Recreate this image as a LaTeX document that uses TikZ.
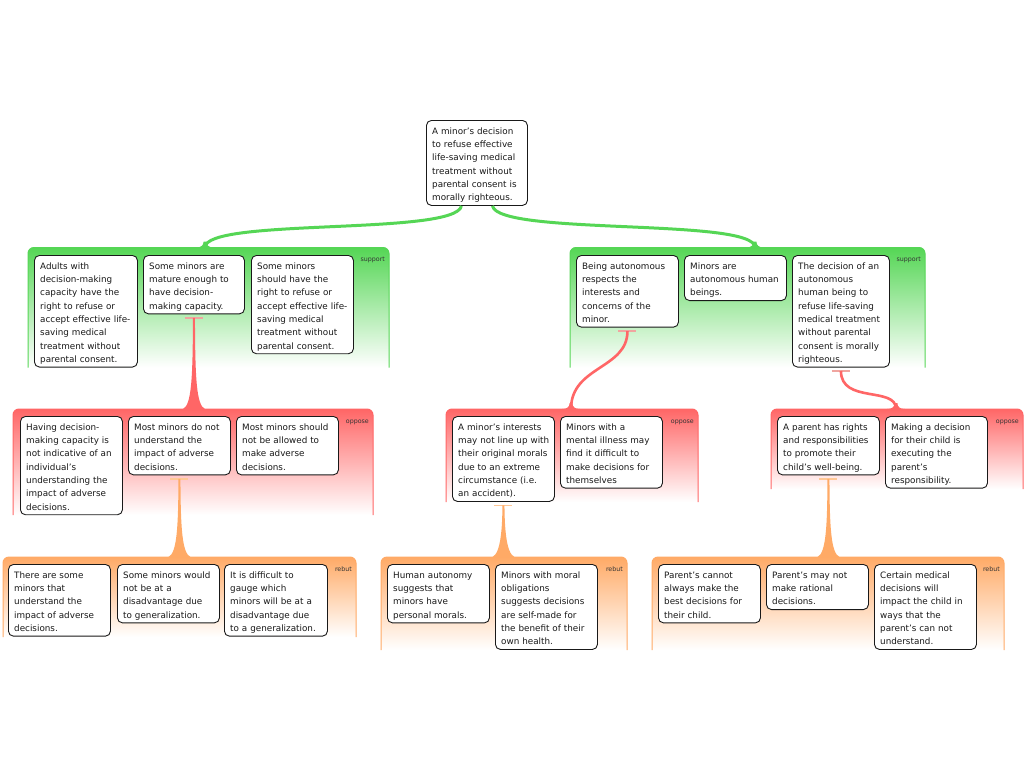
\documentclass[tikz,border=0pt]{standalone}
\usepackage{fontspec}
\setmainfont{DejaVu Sans}
\usetikzlibrary{calc}
\definecolor{supc}{RGB}{85,214,85}
\definecolor{oppc}{RGB}{255,102,102}
\definecolor{rebc}{RGB}{255,170,102}
\definecolor{oppbar}{RGB}{240,165,160}
\definecolor{rebbar}{RGB}{255,200,150}
\tikzset{
 argbox/.style={draw=black!90, line width=0.9pt, rounded corners=5pt, fill=white, inner sep=0pt, anchor=north west},
 argtxt/.style={inner sep=0pt, anchor=north west, align=left, text width=100pt, font=\fontsize{8.8}{13.3}\selectfont, text=black!90},
 grplbl/.style={inner sep=0pt, anchor=base east, font=\fontsize{6.3}{7}\selectfont, text=black!80},
}
% name, x1, x2, ytop, nlines, text
\newcommand\abox[6]{%
 \node[argbox, minimum width={#3-#2}, minimum height={13.3*#5+5.2}] (#1) at (#2,#4) {};
 \node[argtxt] (#1t) at ([xshift=6pt,yshift=-4.7pt]#1.north west) {\strut#6};
}
% name, x1, x2, ytop, ybot, colour, label
\newcommand\agroup[7]{%
 \shade[top color=#6, bottom color=white, rounded corners=6pt] (#2,#5) -- (#2,#4) -- (#3,#4) -- (#3,#5) -- cycle;
 \draw[#6, line width=1pt, rounded corners=6pt] (#2,#5) -- (#2,#4) -- (#3,#4) -- (#3,#5);
 \coordinate (#1top) at (#2,#4);
 \node[grplbl] (#1) at ({#3-4},{#4+14}) {#7};
}
% colour, narrow end, wide end (straight)
\newcommand\taper[3]{%
 \fill[#1] let \p1=(#2), \p2=(#3) in
  (\x1-1pt,\y1) .. controls (\x2-1.2pt,\y2+30pt) and (\x2-2.5pt,\y2+4pt) .. (\x2-11pt,\y2)
  -- (\x2+11pt,\y2) .. controls (\x2+2.5pt,\y2+4pt) and (\x2+1.2pt,\y2+30pt) .. (\x1+1pt,\y1) -- cycle;
}
% colour, width, from, rel c1, rel c2, to
\newcommand\ccurve[6]{%
 \draw[#1, line width=#2] (#3) .. controls +(#4) and +(#5) .. (#6);
 \fill[#1] let \p1=(#6) in (\x1-9pt,\y1) .. controls (\x1-4pt,\y1) and (\x1-1.4pt,\y1+2pt) .. (\x1-1.4pt,\y1+6pt)
  -- (\x1+1.4pt,\y1+6pt) .. controls (\x1+1.4pt,\y1+2pt) and (\x1+4pt,\y1) .. (\x1+9pt,\y1) -- cycle;
}
% colour, node, coordinate name
\newcommand\abar[3]{%
 \draw[#1, line width=1.8pt] ($(#2.south)+(-9,3.5)$) -- ($(#2.south)+(9,3.5)$);
 \coordinate (#3) at ($(#2.south)+(0,3.5)$);
}
\begin{document}
\begin{tikzpicture}[x=1pt,y=-1pt]
\useasboundingbox (0,0) rectangle (1024,768);
\fill[white] (0,0) rectangle (1024,768);

\agroup{sg1}{28}{389}{247.5}{367.5}{supc}{support}
\agroup{sg2}{570}{925}{247.5}{367.5}{supc}{support}
\agroup{og1}{13}{373}{409}{515}{oppc}{oppose}
\agroup{og2}{446}{698}{409}{502}{oppc}{oppose}
\agroup{og3}{771}{1023}{409}{489}{oppc}{oppose}
\agroup{rg1}{3}{356}{557}{637}{rebc}{rebut}
\agroup{rg2}{381}{627}{557}{650}{rebc}{rebut}
\agroup{rg3}{652}{1004}{557}{650}{rebc}{rebut}

\abox{root}{426}{527}{120}{6}{A minor's decision\\to refuse effective\\life-saving medical\\treatment without\\parental consent is\\morally righteous.}

\abox{s1}{34}{137}{255}{8}{Adults with\\decision-making\\capacity have the\\right to refuse or\\accept effective life-\\saving medical\\treatment without\\parental consent.}
\abox{s2}{143}{244}{255}{4}{Some minors are\\mature enough to\\have decision-\\making capacity.}
\abox{s3}{251}{353}{255}{7}{Some minors\\should have the\\right to refuse or\\accept effective life-\\saving medical\\treatment without\\parental consent.}
\abox{s4}{576}{678}{255}{5}{Being autonomous\\respects the\\interests and\\concerns of the\\minor.}
\abox{s5}{684}{786}{255}{3}{Minors are\\autonomous human\\beings.}
\abox{s6}{792}{889}{255}{8}{The decision of an\\autonomous\\human being to\\refuse life-saving\\medical treatment\\without parental\\consent is morally\\righteous.}

\abox{o1}{20}{122}{416}{7}{Having decision-\\making capacity is\\not indicative of an\\individual's\\understanding the\\impact of adverse\\decisions.}
\abox{o2}{128}{230}{416}{4}{Most minors do not\\understand the\\impact of adverse\\decisions.}
\abox{o3}{236}{338}{416}{4}{Most minors should\\not be allowed to\\make adverse\\decisions.}
\abox{o4}{452}{554}{416}{6}{A minor's interests\\may not line up with\\their original morals\\due to an extreme\\circumstance (i.e.\\an accident).}
\abox{o5}{560}{662}{416}{5}{Minors with a\\mental illness may\\find it difficult to\\make decisions for\\themselves}
\abox{o6}{777}{879}{416}{4}{A parent has rights\\and responsibilities\\to promote their\\child's well-being.}
\abox{o7}{885}{987}{416}{5}{Making a decision\\for their child is\\executing the\\parent's\\responsibility.}

\abox{r1}{8}{110}{564}{5}{There are some\\minors that\\understand the\\impact of adverse\\decisions.}
\abox{r2}{117}{219}{564}{4}{Some minors would\\not be at a\\disadvantage due\\to generalization.}
\abox{r3}{224}{327}{564}{5}{It is difficult to\\gauge which\\minors will be at a\\disadvantage due\\to a generalization.}
\abox{r4}{387}{489}{564}{4}{Human autonomy\\suggests that\\minors have\\personal morals.}
\abox{r5}{495}{597}{564}{6}{Minors with moral\\obligations\\suggests decisions\\are self-made for\\the benefit of their\\own health.}
\abox{r6}{658}{760}{564}{4}{Parent's cannot\\always make the\\best decisions for\\their child.}
\abox{r7}{766}{868}{564}{3}{Parent's may not\\make rational\\decisions.}
\abox{r8}{874}{976}{564}{6}{Certain medical\\decisions will\\impact the child in\\ways that the\\parent's can not\\understand.}

% support connectors
\coordinate (g1s) at ($(root.south)+(-15.5,0)$);
\coordinate (g1e) at (205,247.5);
\ccurve{supc}{3pt}{g1s}{-6,30}{0,-30}{g1e}
\coordinate (g2s) at ($(root.south)+(15.5,0)$);
\coordinate (g2e) at (755,247.5);
\ccurve{supc}{3pt}{g2s}{6,30}{0,-30}{g2e}

% oppose connectors
\abar{oppbar}{s2}{s2b}
\taper{oppc}{s2b}{s2b |- og1top}
\abar{oppbar}{s4}{s4b}
\coordinate (op2e) at (571,409);
\ccurve{oppc}{2.6pt}{s4b}{0,38}{0,-43}{op2e}
\abar{oppbar}{s6}{s6b}
\coordinate (op3e) at (896,409);
\ccurve{oppc}{2.6pt}{s6b}{0,33}{0,-23}{op3e}

% rebut connectors
\abar{rebbar}{o2}{o2b}
\taper{rebc}{o2b}{o2b |- rg1top}
\abar{rebbar}{o4}{o4b}
\taper{rebc}{o4b}{o4b |- rg2top}
\abar{rebbar}{o6}{o6b}
\taper{rebc}{o6b}{o6b |- rg3top}
\end{tikzpicture}
\end{document}
